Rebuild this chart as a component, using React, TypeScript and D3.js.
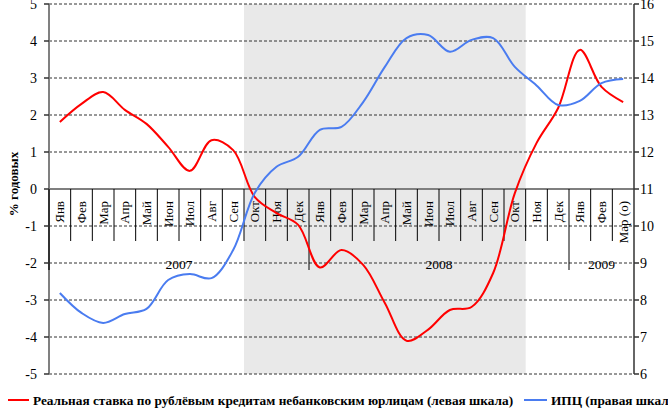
import React from "react";
import * as d3 from "d3";

const months = [
  "Янв", "Фев", "Мар", "Апр", "Май", "Июн", "Июл", "Авг", "Сен", "Окт", "Ноя", "Дек",
  "Янв", "Фев", "Мар", "Апр", "Май", "Июн", "Июл", "Авг", "Сен", "Окт", "Ноя", "Дек",
  "Янв", "Фев", "Мар (о)",
];
const years = ["2007", "2008", "2009"];
const yearStart = [0, 12, 24];
const yearEnd = [12, 24, 27];

// shaded period: Oct 2007 .. Oct 2008 (category indexes)
const shadeFrom = 9;
const shadeTo = 21;

// real rate on rouble loans, % annual (left scale)
const rate = [
  1.81, 2.3, 2.62, 2.14, 1.76, 1.14, 0.49, 1.32, 1.05, -0.22, -0.65, -0.97,
  -2.12, -1.65, -2.05, -3.08, -4.1, -3.8, -3.27, -3.19, -2.27, -0.11, 1.24, 2.19,
  3.76, 2.76, 2.35,
];
// CPI, % (right scale)
const cpi = [
  8.19, 7.65, 7.38, 7.62, 7.76, 8.54, 8.7, 8.59, 9.35, 10.9, 11.6, 11.87,
  12.6, 12.68, 13.35, 14.3, 15.08, 15.16, 14.71, 15.03, 15.08, 14.3, 13.8, 13.27,
  13.38, 13.86, 13.97,
];

const leftTicks = [5, 4, 3, 2, 1, 0, -1, -2, -3, -4, -5];
const rightTicks = [16, 15, 14, 13, 12, 11, 10, 9, 8, 7, 6];

const legendRate = "Реальная ставка по рублёвым кредитам небанковским юрлицам (левая шкала)";
const legendCpi = "ИПЦ (правая шкала)";

const W = 668;
const H = 417;
const x0 = 49;
const x1 = 634;
const font = "'Liberation Serif', 'DejaVu Serif', serif";

export default function App() {
  const x = d3.scaleBand<number>().domain(d3.range(months.length)).range([x0, x1]).padding(0);
  const yL = d3.scaleLinear().domain([-5, 5]).range([374, 4]);
  const yR = d3.scaleLinear().domain([6, 16]).range([374, 4]);
  const cx = (i: number) => (x(i) as number) + x.bandwidth() / 2;
  const bx = (i: number) => (i >= months.length ? x1 : (x(i) as number));

  const redLine = d3.line<number>().x((_, i) => cx(i)).y((d) => yL(d)).curve(d3.curveCatmullRom.alpha(0.5));
  const blueLine = d3.line<number>().x((_, i) => cx(i)).y((d) => yR(d)).curve(d3.curveCatmullRom.alpha(0.5));

  const y0 = yL(0);

  return (
    <svg width={W} height={H} style={{ position: "absolute", left: 0, top: 0, background: "#fff" }}>
      <g style={{ fontFamily: font }}>
      <rect x={bx(shadeFrom)} y={yL(5)} width={bx(shadeTo + 1) - bx(shadeFrom)} height={yL(-5) - yL(5)} fill="#e9e9e9" />

      {leftTicks.filter((t) => t !== 0).map((t) => (
        <line key={t} x1={x0} x2={x1} y1={yL(t)} y2={yL(t)} stroke="#333" strokeWidth={1} strokeDasharray="3,2" />
      ))}

      {/* category axis at zero */}
      <line x1={x0} x2={x1} y1={y0} y2={y0} stroke="#7f7f7f" strokeWidth={2} />
      {d3.range(months.length).map((i) => (
        <line key={i} x1={bx(i)} x2={bx(i)} y1={y0} y2={yearStart.includes(i) ? 270 : 241} stroke="#000" strokeWidth={1} />
      ))}
      {months.map((m, i) => (
        <text key={i} transform={`translate(${cx(i)},201) rotate(-90)`} textAnchor="end" dominantBaseline="central" fontSize={13} fill="#000">
          {m}
        </text>
      ))}
      {years.map((yv, k) => (
        <text key={yv} x={(bx(yearStart[k]) + bx(yearEnd[k])) / 2} y={264} textAnchor="middle" dominantBaseline="central" fontSize={13.5} fill="#000">
          {yv}
        </text>
      ))}

      {/* axes */}
      <line x1={x0} x2={x0} y1={yL(5)} y2={yL(-5)} stroke="#808080" strokeWidth={2} />
      <line x1={x0} x2={x0} y1={y0} y2={270} stroke="#333" strokeWidth={2} />
      <line x1={x1} x2={x1} y1={yR(16)} y2={yR(6)} stroke="#333" strokeWidth={1.5} />
      {leftTicks.map((t) => (
        <g key={t}>
          <line x1={x0 - 5} x2={x0} y1={yL(t)} y2={yL(t)} stroke="#333" strokeWidth={1.5} />
          <text x={37} y={yL(t)} textAnchor="end" dominantBaseline="central" fontSize={14} fill="#000">{t}</text>
        </g>
      ))}
      {rightTicks.map((t) => (
        <g key={t}>
          <line x1={x1} x2={x1 + 5} y1={yR(t)} y2={yR(t)} stroke="#333" strokeWidth={1.5} />
          <text x={640} y={yR(t)} textAnchor="start" dominantBaseline="central" fontSize={14} fill="#000">{t}</text>
        </g>
      ))}
      <text transform={`translate(13,184) rotate(-90)`} textAnchor="middle" dominantBaseline="central" fontSize={13} fontWeight="bold" fill="#000">
        % годовых
      </text>

      <path d={redLine(rate) || ""} fill="none" stroke="#ff0000" strokeWidth={2} />
      <path d={blueLine(cpi) || ""} fill="none" stroke="#4a7cf0" strokeWidth={2} />

      {/* legend */}
      <line x1={8} x2={29} y1={400} y2={400} stroke="#ff0000" strokeWidth={2} />
      <text x={33} y={400} dominantBaseline="central" fontSize={13.3} fontWeight="bold" fill="#000">{legendRate}</text>
      <line x1={524} x2={547} y1={400} y2={400} stroke="#4a7cf0" strokeWidth={2} />
      <text x={551} y={400} dominantBaseline="central" fontSize={13.3} fontWeight="bold" fill="#000">{legendCpi}</text>
      </g>
    </svg>
  );
}
